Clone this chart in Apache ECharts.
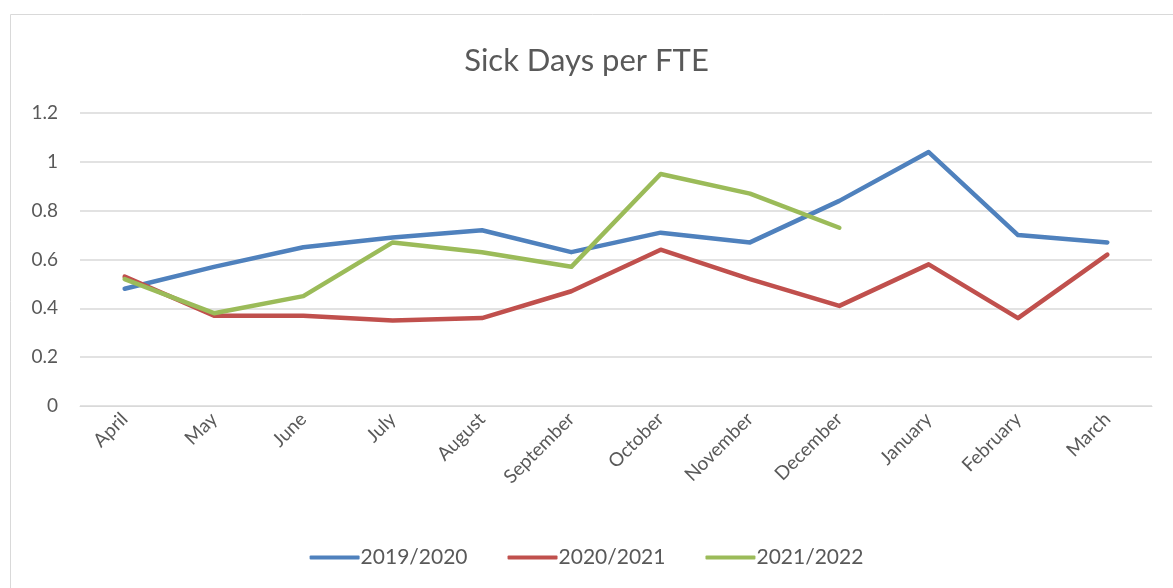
<!DOCTYPE html>
<html>
<head>
<meta charset="utf-8">
<script src="https://cdn.jsdelivr.net/npm/echarts@6/dist/echarts.min.js"></script>
<style>
  html, body { margin: 0; padding: 0; background: #fff; }
  #chart { width: 1173px; height: 588px; }
</style>
</head>
<body>
<div id="chart"></div>
<script>
const months = ["April", "May", "June", "July", "August", "September", "October", "November", "December", "January", "February", "March"];
const fy1920 = [0.48, 0.57, 0.65, 0.69, 0.72, 0.63, 0.71, 0.67, 0.84, 1.04, 0.70, 0.67];
const fy2021 = [0.53, 0.37, 0.37, 0.35, 0.36, 0.47, 0.64, 0.52, 0.41, 0.58, 0.36, 0.62];
const fy2122 = [0.52, 0.38, 0.45, 0.67, 0.63, 0.57, 0.95, 0.87, 0.73];
const seriesNames = ["2019/2020", "2020/2021", "2021/2022"];
const colors = ["#4f81bd", "#c0504d", "#9bbb59"];

const font = "Lato, 'Open Sans', sans-serif";
const myChart = echarts.init(document.getElementById("chart"));

function lineSeries(name, data, color) {
  return {
    name: name,
    type: "line",
    data: data,
    symbol: "none",
    color: color,
    lineStyle: { width: 4.5, color: color, cap: "round", join: "round" },
    animation: false,
  };
}

const option = {
  textStyle: { fontFamily: font },
  graphic: [
    {
      type: "rect",
      shape: { x: 10.5, y: 14.5, width: 1180, height: 600 },
      style: { fill: "none", stroke: "#d9d9d9", lineWidth: 1 },
      silent: true,
    },
  ],
  title: {
    text: "Sick Days per FTE",
    left: "center",
    top: 40,
    textStyle: { fontFamily: font, fontSize: 31, fontWeight: "normal", color: "#595959" },
  },
  legend: {
    bottom: 15,
    left: "center",
    itemWidth: 50,
    itemHeight: 4,
    itemGap: 40,
    icon: "roundRect",
    textStyle: { fontFamily: font, fontSize: 21, color: "#595959", padding: [0, 0, 0, -4] },
    data: seriesNames,
  },
  grid: { left: 80, right: 21, top: 113, bottom: 182, containLabel: false },
  xAxis: {
    type: "category",
    data: months,
    boundaryGap: true,
    axisLine: { lineStyle: { color: "#d9d9d9", width: 1 } },
    axisTick: { show: false },
    axisLabel: {
      rotate: 45,
      interval: 0,
      color: "#595959",
      fontSize: 19,
      fontFamily: font,
      margin: 10,
    },
  },
  yAxis: {
    type: "value",
    min: 0,
    max: 1.2,
    interval: 0.2,
    axisLine: { show: false },
    axisTick: { show: false },
    splitLine: { lineStyle: { color: "#d9d9d9", width: 1.5 } },
    axisLabel: {
      color: "#595959",
      fontSize: 19,
      fontFamily: font,
      margin: 22,
      formatter: function (v) { return String(+v.toFixed(1)); },
    },
  },
  series: [
    lineSeries(seriesNames[0], fy1920, colors[0]),
    lineSeries(seriesNames[1], fy2021, colors[1]),
    lineSeries(seriesNames[2], fy2122, colors[2]),
  ],
};

myChart.setOption(option);
</script>
</body>
</html>
